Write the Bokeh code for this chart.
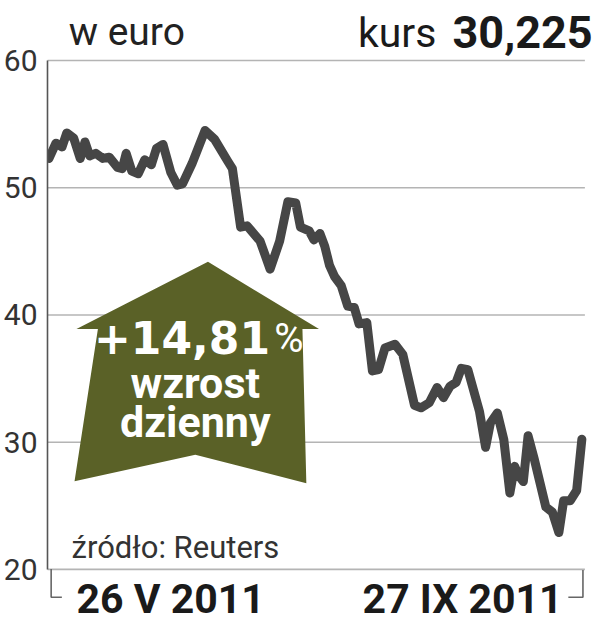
from bokeh.plotting import figure
from bokeh.models import Range1d, FixedTicker, ColumnDataSource
from bokeh.core.properties import value
from bokeh.embed import file_html
from bokeh.resources import INLINE

# ---- data (days since 26 V 2011, share price in EUR) ----
days = [0.4, 2.0, 3.4, 4.5, 6.1, 7.6, 8.7, 9.8, 11.2, 12.8, 14.3,
        16.2, 17.3, 18.2, 19.5, 21.0, 22.5, 24.0, 25.2, 26.7, 28.5,
        30.0, 31.2, 33.4, 36.4, 38.6, 41.6, 42.7, 44.6, 46.1, 49.1,
        51.4, 53.6, 55.5, 57.3, 58.4, 60.4, 61.5, 62.9, 64.0, 65.1,
        66.3, 67.8, 69.3, 70.8, 71.9, 73.7, 75.0, 76.4, 77.9, 80.2,
        82.0, 84.7, 86.2, 88.1, 89.9, 91.4, 92.9, 94.3, 95.5, 97.0,
        99.7, 101.1, 102.2, 103.8, 105.3, 106.7, 107.8, 108.7, 109.8, 110.9,
        112.3, 115.0, 116.5, 118.0, 119.1, 120.6, 122.1, 123.3]
prices = [52.3, 53.5, 53.2, 54.3, 53.9, 52.3, 53.6, 52.5, 52.7, 52.3, 52.4,
          51.6, 51.5, 52.7, 51.3, 51.1, 52.2, 51.8, 53.1, 53.4, 51.2,
          50.2, 50.3, 51.9, 54.5, 53.8, 52.1, 51.5, 46.9, 47.0, 45.8,
          43.6, 45.8, 48.9, 48.8, 46.9, 46.6, 45.9, 46.4, 45.4, 43.9,
          43.0, 42.3, 40.7, 40.6, 39.3, 39.4, 35.6, 35.7, 37.4, 37.7,
          36.9, 32.9, 32.7, 33.1, 34.3, 33.5, 34.4, 34.7, 35.8, 35.7,
          32.4, 29.6, 31.5, 32.3, 30.2, 26.0, 28.1, 27.4, 26.9, 30.5,
          28.7, 24.9, 24.5, 22.9, 25.4, 25.4, 26.2, 30.225]
y_ticks = [20, 30, 40, 50, 60]
date_labels = ["26 V 2011", "27 IX 2011"]
unit_label = "w euro"
last_label = "kurs"
last_value = "30,225"
change_label = "+14,81"
change_words = ["wzrost", "dzienny"]
source_label = "źródło: Reuters"

# ---- layout helpers (reference-pixel positions -> data coordinates) ----
PX_DAY = 4.4516
PX_UNIT = 13.05
PX_UNIT_FIG = 12.72


def dx(X):
    return (X - 48.0) / PX_DAY


def vy(Y):
    return 60.0 - (Y - 61.5) / PX_UNIT


def tb(Y, fs):
    # text anchor for a wanted baseline (compensates renderer baseline offset)
    return vy(Y) + 0.39 * fs / PX_UNIT_FIG


# ---- figure ----
p = figure(width=599, height=624, output_backend="svg", toolbar_location=None,
           x_axis_location=None, y_axis_location="left",
           x_range=Range1d(dx(48.25), dx(615.0)), y_range=Range1d(vy(640.0), vy(0.0)),
           min_border_left=47, min_border_right=0, min_border_top=0, min_border_bottom=0)
p.outline_line_color = None
p.xgrid.visible = False
p.ygrid.visible = False
p.background_fill_color = "white"
p.border_fill_color = "white"

ax = p.yaxis[0]
ax.ticker = FixedTicker(ticks=y_ticks)
ax.bounds = (min(y_ticks), max(y_ticks))
ax.axis_line_color = "#555555"
ax.axis_line_width = 1.6
ax.major_tick_line_color = None
ax.minor_tick_line_color = None
ax.major_tick_out = 0
ax.major_tick_in = 0
ax.major_label_standoff = 10
ax.major_label_text_font = "Roboto"
ax.major_label_text_font_size = "30px"
ax.major_label_text_color = "#333333"

# gridlines
n = len(y_ticks)
p.segment(x0=[dx(48)] * n, x1=[dx(600)] * n, y0=y_ticks, y1=y_ticks,
          line_color="#b4b4b4", line_width=1.6)

# bottom brackets
p.line([dx(52), dx(52), dx(63)], [vy(583), vy(612), vy(612)],
       line_color="#666666", line_width=1.6)
p.line([dx(598), dx(598), dx(583)], [vy(584), vy(612), vy(612)],
       line_color="#666666", line_width=1.6)

# arrow badge
arrow_px = [(213, 268), (327, 337), (310, 337), (314, 495), (200, 466),
            (76, 493), (100, 337), (78, 337)]
p.patch([dx(a) for a, b in arrow_px], [vy(b) for a, b in arrow_px],
        fill_color="#5a6127", line_color=None)

# price line
src = ColumnDataSource(dict(x=days, y=prices))
p.line("x", "y", source=src, line_color="#464646", line_width=9,
       line_join="round", line_cap="round")


def label(X, Y, txt, fs, font="Roboto", style="normal", color="#1a1a1a", align="left"):
    p.text(x=[dx(X)], y=[tb(Y, fs)], text=[txt], text_font=value(font),
           text_font_style=style, text_font_size=f"{fs}px", text_color=color,
           text_baseline="alphabetic", text_align=align)


# texts in the badge
label(96, 363, change_label, 44, font="DejaVu Sans", style="bold", color="white")
label(281, 363, "%", 40, color="white")
label(200, 410, change_words[0], 43, style="bold", color="white", align="center")
label(200, 449, change_words[1], 43, style="bold", color="white", align="center")

# header
label(70, 48, unit_label, 39, color="#222222")
label(367, 50, last_label, 41)
label(608, 50, last_value, 45, style="bold", align="right")

# footer
label(73, 573, source_label, 31, color="#333333")
label(78, 630, date_labels[0], 41, style="bold")
label(577, 630, date_labels[1], 41, style="bold", align="right")

open("out.html", "w").write(file_html(p, INLINE))
